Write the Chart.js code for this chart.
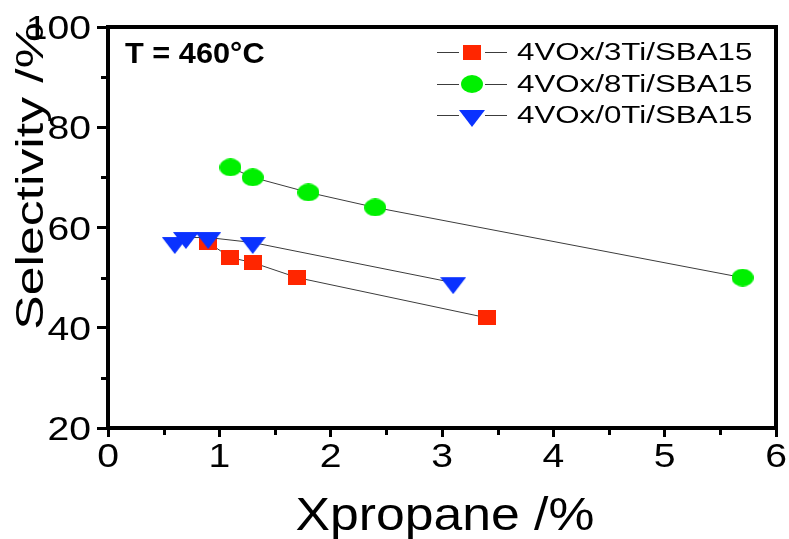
<!DOCTYPE html>
<html>
<head>
<meta charset="utf-8">
<title>Selectivity vs propane conversion</title>
<script src="https://cdn.jsdelivr.net/npm/chart.js@4.4.1/dist/chart.umd.min.js"></script>
<style>
  html, body { margin: 0; padding: 0; background: #fff; }
  #wrap { width: 789px; height: 539px; }
</style>
</head>
<body>
<div id="wrap"><canvas id="selChart" width="789" height="539"></canvas></div>
<script>
// catalyst series
const seriesNames = ['4VOx/3Ti/SBA15', '4VOx/8Ti/SBA15', '4VOx/0Ti/SBA15'];

const conv3Ti = [0.9, 1.1, 1.3, 1.7, 3.4];
const sel3Ti  = [57, 54, 53, 50, 42];

const conv8Ti = [1.1, 1.3, 1.8, 2.4, 5.7];
const sel8Ti  = [72, 70, 67, 64, 50];

const conv0Ti = [0.6, 0.7, 0.9, 1.3, 3.1];
const sel0Ti  = [57, 58, 58, 57, 49];

// axis ticks
const xTicks = [0, 1, 2, 3, 4, 5, 6];
const yTicks = [20, 40, 60, 80, 100];
const xMinor = [0.5, 1.5, 2.5, 3.5, 4.5, 5.5];
const yMinor = [30, 50, 70, 90];

const FONT = '"Liberation Sans", Arial, Helvetica, sans-serif';

// marker bitmaps (Origin style symbols)
function squareMarker(color) {
    const c = document.createElement('canvas');
    c.width = 18; c.height = 15;
    const g = c.getContext('2d');
    g.fillStyle = color;
    g.fillRect(0, 0, 18, 15);
    return c;
}

function ellipseMarker(color) {
    const c = document.createElement('canvas');
    c.width = 22; c.height = 18;
    const g = c.getContext('2d');
    g.fillStyle = color;
    g.beginPath();
    g.ellipse(11, 9, 11, 9, 0, 0, Math.PI * 2);
    g.fill();
    return c;
}

function triangleMarker(color) {
    // canvas centre sits on the triangle's centroid
    const c = document.createElement('canvas');
    c.width = 26; c.height = 23;
    const g = c.getContext('2d');
    g.fillStyle = color;
    g.beginPath();
    g.moveTo(0, 6);
    g.lineTo(26, 6);
    g.lineTo(13, 23);
    g.closePath();
    g.fill();
    return c;
}

function toPoints(xs, ys) {
    return xs.map((x, i) => ({ x: x, y: ys[i] }));
}

function makeSet(label, xs, ys, marker, order) {
    return {
        label: label,
        data: toPoints(xs, ys),
        showLine: true,
        borderColor: '#3c3c3c',
        borderWidth: 1,
        pointStyle: marker,
        pointRadius: 10,
        pointHoverRadius: 10,
        order: order
    };
}

// text drawn wider than the font's natural width
function wideText(ctx, text, x, y, sx, font, align) {
    ctx.save();
    ctx.translate(x, y);
    ctx.scale(sx, 1);
    ctx.font = font;
    ctx.textAlign = align || 'left';
    ctx.textBaseline = 'alphabetic';
    ctx.fillText(text, 0, 0);
    ctx.restore();
}

// top/right frame, minor ticks and tick labels
const frameAndTicks = {
    id: 'frameAndTicks',
    afterDraw(chart) {
        const ctx = chart.ctx;
        const a = chart.chartArea;
        const xs = chart.scales.x;
        const ys = chart.scales.y;
        ctx.save();
        ctx.strokeStyle = '#000';
        ctx.lineWidth = 4;
        ctx.beginPath();
        ctx.moveTo(a.left - 2, a.top);
        ctx.lineTo(a.right, a.top);
        ctx.lineTo(a.right, a.bottom + 2);
        ctx.stroke();

        ctx.lineWidth = 3;
        ctx.beginPath();
        xMinor.forEach(v => {
            const px = Math.round(xs.getPixelForValue(v)) + 0.5;
            ctx.moveTo(px, a.bottom);
            ctx.lineTo(px, a.bottom + 7);
        });
        yMinor.forEach(v => {
            const py = Math.round(ys.getPixelForValue(v)) + 0.5;
            ctx.moveTo(a.left, py);
            ctx.lineTo(a.left - 7, py);
        });
        ctx.stroke();

        ctx.fillStyle = '#000';
        const tickFont = '34px ' + FONT;
        xTicks.forEach(v => {
            wideText(ctx, String(v), xs.getPixelForValue(v), a.bottom + 39, 1.15, tickFont, 'center');
        });
        yTicks.forEach(v => {
            wideText(ctx, String(v), a.left - 17, ys.getPixelForValue(v) + 12, 1.15, tickFont, 'right');
        });
        ctx.restore();
    }
};

// axis titles, temperature note and legend
const annotations = {
    id: 'annotations',
    afterDraw(chart) {
        const ctx = chart.ctx;
        const a = chart.chartArea;
        ctx.save();
        ctx.fillStyle = '#000';

        ctx.save();
        ctx.translate(43, 176);
        ctx.rotate(-Math.PI / 2);
        wideText(ctx, 'Selectivity /%', 0, 0, 1.36, '38px ' + FONT, 'center');
        ctx.restore();

        wideText(ctx, 'Xpropane /%', (a.left + a.right) / 2 + 3, 530, 1.1, '47px ' + FONT, 'center');

        wideText(ctx, 'T = 460°C', 125, 63, 1.06, 'bold 29px ' + FONT, 'left');

        chart.data.datasets.forEach((ds, i) => {
            const y = 52 + i * 31.7;
            const ly = Math.round(y) + 0.5;
            ctx.strokeStyle = '#3c3c3c';
            ctx.lineWidth = 1;
            ctx.beginPath();
            ctx.moveTo(437, ly); ctx.lineTo(459, ly);
            ctx.moveTo(485, ly); ctx.lineTo(507, ly);
            ctx.stroke();
            const m = ds.pointStyle;
            ctx.drawImage(m, Math.round(472 - m.width / 2), Math.round(y - m.height / 2));
            wideText(ctx, ds.label, 517, y + 8, 1.36, '23px ' + FONT, 'left');
        });
        ctx.restore();
    }
};

const ctx = document.getElementById('selChart');

new Chart(ctx, {
    type: 'scatter',
    data: {
        datasets: [
            makeSet(seriesNames[0], conv3Ti, sel3Ti, squareMarker('#ff2600'), 2),
            makeSet(seriesNames[1], conv8Ti, sel8Ti, ellipseMarker('#00f000'), 1),
            makeSet(seriesNames[2], conv0Ti, sel0Ti, triangleMarker('#0a32ff'), 0)
        ]
    },
    options: {
        responsive: false,
        animation: false,
        devicePixelRatio: 1,
        layout: { padding: { left: 0, right: 13, top: 27, bottom: 0 } },
        plugins: {
            legend: { display: false },
            tooltip: { enabled: false }
        },
        scales: {
            x: {
                type: 'linear',
                min: 0,
                max: 6,
                afterBuildTicks: s => { s.ticks = xTicks.map(v => ({ value: v })); },
                afterFit: s => { s.height = 111; },
                border: { color: '#000', width: 4 },
                grid: {
                    drawOnChartArea: false,
                    color: '#000',
                    tickColor: '#000',
                    tickWidth: 3,
                    tickLength: 9
                },
                ticks: { display: false }
            },
            y: {
                type: 'linear',
                min: 20,
                max: 100,
                afterBuildTicks: s => { s.ticks = yTicks.map(v => ({ value: v })); },
                afterFit: s => { s.width = 108; },
                border: { color: '#000', width: 4 },
                grid: {
                    drawOnChartArea: false,
                    color: '#000',
                    tickColor: '#000',
                    tickWidth: 3,
                    tickLength: 11
                },
                ticks: { display: false }
            }
        }
    },
    plugins: [frameAndTicks, annotations]
});
</script>
</body>
</html>
